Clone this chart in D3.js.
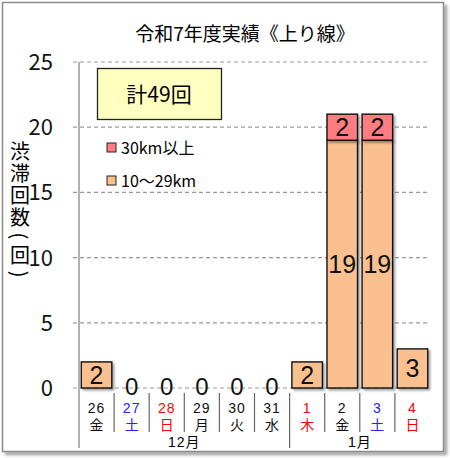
<!DOCTYPE html>
<html>
<head>
<meta charset="utf-8">
<script src="https://cdn.jsdelivr.net/npm/d3@7"></script>
<style>
  body { margin: 0; background: #fff; }
  text { font-family: "Noto Sans CJK JP", "Noto Sans", sans-serif; }
  text.lat { font-family: "Liberation Sans", "Noto Sans CJK JP", sans-serif; }
</style>
</head>
<body>
<div class="chart"></div>
<script>
// 渋滞回数 (上り線)
const dates = ["26", "27", "28", "29", "30", "31", "1", "2", "3", "4"];
const weekdays = ["金", "土", "日", "月", "火", "水", "木", "金", "土", "日"];
const months = ["12月", "12月", "12月", "12月", "12月", "12月", "1月", "1月", "1月", "1月"];
const holidays = ["1月1"];
const mid = [2, 0, 0, 0, 0, 0, 2, 19, 19, 3];   // 10～29km
const long = [0, 0, 0, 0, 0, 0, 0, 2, 2, 0];    // 30km以上
const yTicks = [0, 5, 10, 15, 20, 25];
const yLabel = "渋滞回数(回)";

const width = 450, height = 458;
const svg = d3.select(".chart").append("svg")
    .attr("width", width)
    .attr("height", height);

const defs = svg.append("defs");
defs.append("filter").attr("id", "sh")
    .attr("x", "-20%").attr("y", "-20%").attr("width", "150%").attr("height", "150%")
  .append("feDropShadow")
    .attr("dx", 2).attr("dy", 2).attr("stdDeviation", 1.2)
    .attr("flood-color", "#000").attr("flood-opacity", 0.35);
defs.append("filter").attr("id", "frameSh")
    .attr("x", "-5%").attr("y", "-5%").attr("width", "110%").attr("height", "110%")
  .append("feDropShadow")
    .attr("dx", 3).attr("dy", 3).attr("stdDeviation", 1.5)
    .attr("flood-color", "#000").attr("flood-opacity", 0.35);

// frame
svg.append("rect")
    .attr("x", 2.5).attr("y", 2.5)
    .attr("width", 441).attr("height", 449)
    .attr("fill", "#fff")
    .attr("stroke", "#8a8a8a")
    .attr("stroke-width", 1.5)
    .attr("filter", "url(#frameSh)");

svg.append("text")
    .attr("x", 245).attr("y", 41)
    .attr("text-anchor", "middle")
    .attr("font-size", 19)
    .text("令和7年度実績《上り線》");

const keys = dates.map((d, i) => i);
const x = d3.scaleBand()
    .domain(keys)
    .range([79, 430])
    .paddingInner(0.13)
    .paddingOuter(0.065);

const y = d3.scaleLinear()
    .domain([0, 25])
    .range([388, 62]);

// grid
svg.append("g").selectAll("line")
    .data(yTicks)
    .join("line")
    .attr("x1", 73).attr("x2", 430)
    .attr("y1", d => y(d)).attr("y2", d => y(d))
    .attr("stroke", "#999")
    .attr("stroke-width", 1.2)
    .attr("stroke-dasharray", "4,3");

svg.append("g").selectAll("text")
    .data(yTicks)
    .join("text")
    .attr("x", 53)
    .attr("y", d => y(d) + 8)
    .attr("text-anchor", "end")
    .attr("font-size", 22)
    .attr("fill", "#111")
    .text(d => d);

// y axis line
svg.append("line")
    .attr("x1", 79).attr("x2", 79)
    .attr("y1", y(25)).attr("y2", 448)
    .attr("stroke", "#888").attr("stroke-width", 1.3);

// y label, vertical text, one glyph per tspan
let cy = 151;
const yChars = Array.from(yLabel).map((c, i, a) => {
  const paren = c === "(" || c === ")";
  if (i > 0) {
    const prevParen = a[i - 1] === "(" || a[i - 1] === ")";
    cy += (paren || prevParen) ? 19 : 22;
  }
  return {c, paren, cy};
});
svg.append("text")
    .attr("writing-mode", "vertical-rl")
    .attr("font-size", 20)
  .selectAll("tspan")
    .data(yChars)
    .join("tspan")
    .attr("x", 20)
    .attr("y", d => d.paren ? d.cy - 3.5 : d.cy - 10)
    .text(d => d.c);

// category separators
const bounds = keys.slice(1).map(i => x(i) - x.step() * x.paddingInner() / 2);
svg.append("g").selectAll("line")
    .data(bounds)
    .join("line")
    .attr("x1", d => d).attr("x2", d => d)
    .attr("y1", 393)
    .attr("y2", (d, i) => months[i] !== months[i + 1] ? 448 : 432)
    .attr("stroke", "#666").attr("stroke-width", 1.2);

const dayColor = i => {
  if (weekdays[i] === "日" || holidays.includes(months[i] + dates[i])) return "#ff0000";
  if (weekdays[i] === "土") return "#2222ff";
  return "#111";
};

const labels = svg.append("g");
labels.selectAll(".d")
    .data(keys)
    .join("text")
    .attr("class", "lat d")
    .attr("x", i => x(i) + x.bandwidth() / 2)
    .attr("y", 413)
    .attr("text-anchor", "middle")
    .attr("font-size", 14)
    .attr("letter-spacing", 1)
    .attr("fill", dayColor)
    .text(i => dates[i]);
labels.selectAll(".w")
    .data(keys)
    .join("text")
    .attr("class", "lat w")
    .attr("x", i => x(i) + x.bandwidth() / 2)
    .attr("y", 430)
    .attr("text-anchor", "middle")
    .attr("font-size", 14)
    .attr("fill", dayColor)
    .text(i => weekdays[i]);

const monthGroups = d3.groups(keys, i => months[i]);
labels.selectAll(".m")
    .data(monthGroups)
    .join("text")
    .attr("class", "lat m")
    .attr("x", ([, idx]) => (x(idx[0]) - x.step() * x.paddingInner() / 2 + x(idx[idx.length - 1]) + x.bandwidth() + x.step() * x.paddingInner() / 2) / 2)
    .attr("y", 447)
    .attr("text-anchor", "middle")
    .attr("font-size", 14)
    .attr("letter-spacing", 1)
    .text(([m]) => m);

// stacked bars
const series = [
  {name: "10～29km", values: mid, color: "#fac090"},
  {name: "30km以上", values: long, color: "#ff7c80"}
];
const stacked = keys.map(i => {
  let base = 0;
  return series.map(s => {
    const seg = {i, v: s.values[i], y0: base, y1: base + s.values[i], color: s.color};
    base += s.values[i];
    return seg;
  });
}).flat();

const segs = stacked.filter(d => d.v > 0);
svg.append("g").selectAll("rect")
    .data(segs)
    .join("rect")
    .attr("x", d => x(d.i))
    .attr("width", x.bandwidth())
    .attr("y", d => y(d.y1))
    .attr("height", d => y(d.y0) - y(d.y1))
    .attr("fill", d => d.color)
    .attr("stroke", "#111")
    .attr("stroke-width", 1.4)
    .attr("filter", "url(#sh)");

svg.append("g").selectAll("text")
    .data(segs)
    .join("text")
    .attr("class", "lat")
    .attr("x", d => x(d.i) + x.bandwidth() / 2)
    .attr("y", d => (y(d.y0) + y(d.y1)) / 2 + 9)
    .attr("text-anchor", "middle")
    .attr("font-size", 25)
    .attr("fill", "#111")
    .text(d => d.v);

// zero labels sit on the baseline
const zeros = keys.filter(i => mid[i] + long[i] === 0);
svg.append("g").selectAll("text")
    .data(zeros)
    .join("text")
    .attr("class", "lat")
    .attr("x", i => x(i) + x.bandwidth() / 2)
    .attr("y", y(0) + 7)
    .attr("text-anchor", "middle")
    .attr("font-size", 24)
    .attr("fill", "#111")
    .text(0);

// total box
const total = d3.sum(mid) + d3.sum(long);
svg.append("rect")
    .attr("x", 97.5).attr("y", 68.5)
    .attr("width", 124).attr("height", 51)
    .attr("fill", "#ffffc0")
    .attr("stroke", "#222")
    .attr("stroke-width", 1.3);
svg.append("text")
    .attr("x", 159).attr("y", 102)
    .attr("text-anchor", "middle")
    .attr("font-size", 21)
    .text(`計${total}回`);

// legend
const legend = svg.append("g").selectAll("g")
    .data(series.slice().reverse())
    .join("g")
    .attr("transform", (d, i) => `translate(107,${143 + i * 33})`);
legend.append("rect")
    .attr("width", 9).attr("height", 9)
    .attr("fill", d => d.color)
    .attr("stroke", "#222")
    .attr("stroke-width", 1);
legend.append("text")
    .attr("x", 14).attr("y", 11)
    .attr("font-size", 16)
    .text(d => d.name);
</script>
</body>
</html>
